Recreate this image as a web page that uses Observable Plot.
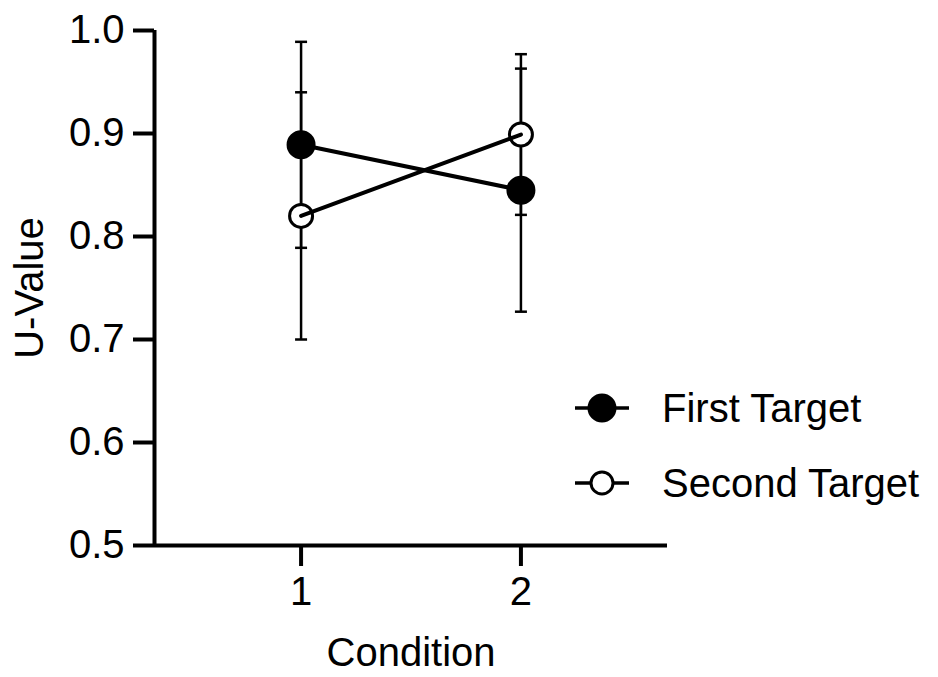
<!DOCTYPE html>
<html>
<head>
<meta charset="utf-8">
<script src="https://cdn.jsdelivr.net/npm/d3@7"></script>
<script src="https://cdn.jsdelivr.net/npm/@observablehq/plot@0.6"></script>
<style>
  html, body { margin: 0; padding: 0; background: #fff; }
  #wrap { position: relative; width: 938px; height: 677px; font-family: "Liberation Sans", Arial, sans-serif; }
  .leg { position: absolute; left: 574px; height: 38px; display: flex; align-items: center; font-size: 40px; line-height: 38px; color: #000; white-space: nowrap; }
  .leg svg { margin-right: 32px; display: block; }
</style>
</head>
<body>
<div id="wrap"></div>
<script>
const conditions = [1, 2];
const seriesNames = ["First Target", "Second Target"];
const firstMean = [0.889, 0.845];
const firstErr = [0.100, 0.118];
const secondMean = [0.820, 0.899];
const secondErr = [0.120, 0.078];
const yTicks = [0.5, 0.6, 0.7, 0.8, 0.9, 1.0];
const xTicks = [1, 2];

const rows = [];
conditions.forEach((c, i) => {
  rows.push({cond: c, series: seriesNames[0], mean: firstMean[i], err: firstErr[i]});
  rows.push({cond: c, series: seriesNames[1], mean: secondMean[i], err: secondErr[i]});
});

const capSymbol = {
  draw(context, size) {
    const w = Math.sqrt(size / Math.PI);
    context.moveTo(-w, 0);
    context.lineTo(w, 0);
  }
};

const fillFor = s => s === seriesNames[0] ? "black" : "white";

const chart = Plot.plot({
  width: 938,
  height: 677,
  marginLeft: 154,
  marginRight: 271,
  marginTop: 30,
  marginBottom: 132,
  style: {fontFamily: "'Liberation Sans', Arial, sans-serif", fontSize: "40px", color: "black", background: "white"},
  x: {domain: [1/3, 8/3]},
  y: {domain: [0.5, 1.0]},
  marks: [
    Plot.ruleX([1/3], {stroke: "black", strokeWidth: 4}),
    Plot.ruleY([0.5], {stroke: "black", strokeWidth: 4}),
    Plot.axisY({ticks: yTicks, tickFormat: d3.format(".1f"), tickSize: 21, tickPadding: 9, strokeWidth: 4, fontSize: 40, label: null}),
    Plot.axisX({ticks: xTicks, tickFormat: d3.format("d"), tickSize: 21, tickPadding: 10, strokeWidth: 4, fontSize: 40, label: null}),
    Plot.text(["U-Value"], {frameAnchor: "left", textAnchor: "middle", rotate: -90, dx: -124, fontSize: 40}),
    Plot.text(["Condition"], {frameAnchor: "bottom", dy: 120, fontSize: 40}),
    Plot.ruleX(rows, {x: "cond", y1: d => d.mean - d.err, y2: d => d.mean + d.err, stroke: "black", strokeWidth: 2.5}),
    Plot.dot(rows, {x: "cond", y: d => d.mean - d.err, symbol: capSymbol, r: 6, stroke: "black", strokeWidth: 2.5}),
    Plot.dot(rows, {x: "cond", y: d => d.mean + d.err, symbol: capSymbol, r: 6, stroke: "black", strokeWidth: 2.5}),
    Plot.dot(rows, {filter: d => d.series === seriesNames[0], x: "cond", y: "mean", r: 13, fill: "black", stroke: "black", strokeWidth: 3}),
    Plot.dot(rows, {filter: d => d.series === seriesNames[1], x: "cond", y: "mean", r: 11.5, fill: "white", stroke: "black", strokeWidth: 3}),
    Plot.line(rows, {x: "cond", y: "mean", z: "series", stroke: "black", strokeWidth: 4})
  ]
});

const wrap = document.getElementById("wrap");
wrap.appendChild(chart);

const legCenters = [408, 483];
seriesNames.forEach((name, i) => {
  const div = document.createElement("div");
  div.className = "leg";
  div.style.top = (legCenters[i] - 19) + "px";
  const fill = fillFor(name);
  div.innerHTML = `<svg width="56" height="38" viewBox="0 0 56 38"><line x1="1" x2="55" y1="19" y2="19" stroke="black" stroke-width="3.5"/><circle cx="28" cy="19" r="${i === 0 ? 13 : 11}" fill="${fill}" stroke="black" stroke-width="3"/></svg><span>${name}</span>`;
  wrap.appendChild(div);
});
</script>
</body>
</html>
